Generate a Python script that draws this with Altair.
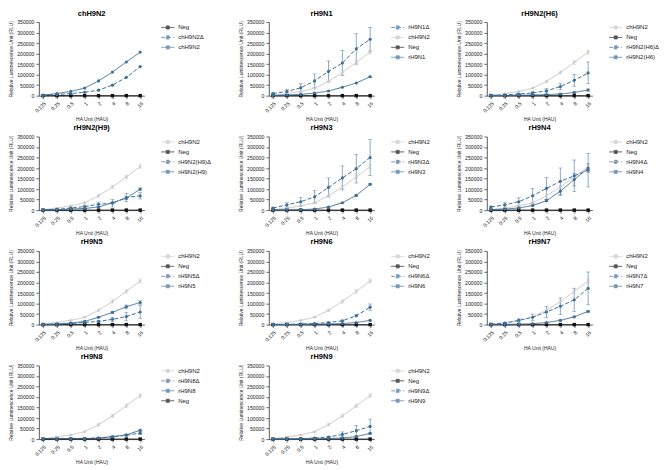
import altair as alt
import pandas as pd

HAU = ["0.125", "0.25", "0.5", "1", "2", "4", "8", "16"]
Y_TICKS = [0, 50000, 100000, 150000, 200000, 250000, 300000, 350000]

NEG = [0, 0, 0, 0, 0, 0, 0, 0]
ZERO = [0, 0, 0, 0, 0, 0, 0, 0]

# chH9N2 reference (grey in the rH9 panels)
CH = [2000, 10000, 20000, 35000, 68000, 110000, 158000, 207000]
CH_ERR = [0, 1000, 2000, 3000, 6000, 8000, 9000, 10000]
# chH9N2 panel itself
CH_FULL = [2000, 10000, 20000, 36000, 70000, 112000, 160000, 207000]
CH_D = [1000, 5000, 10000, 16000, 26000, 50000, 87000, 138000]

N1_D = [10000, 20000, 37000, 70000, 115000, 155000, 222000, 268000]
N1_D_ERR = [3000, 8000, 19000, 33000, 50000, 60000, 72000, 57000]
N1 = [1000, 3000, 6000, 12000, 22000, 40000, 60000, 90000]
N1_ERR = [0, 0, 0, 0, 0, 0, 0, 3000]

H6_D = [1000, 3000, 8000, 13000, 23000, 43000, 73000, 108000]
H6_D_ERR = [0, 1000, 3000, 5000, 10000, 15000, 28000, 52000]
H6 = [500, 1000, 2000, 3000, 5000, 8000, 15000, 27000]
H6_ERR = [0, 0, 0, 0, 1000, 2000, 3000, 5000]

H9_D = [1000, 3000, 10000, 17000, 28000, 33000, 60000, 68000]
H9_D_ERR = [0, 1000, 4000, 7000, 10000, 18000, 20000, 15000]
H9 = [500, 2000, 5000, 8000, 15000, 35000, 57000, 100000]
H9_ERR = [0, 0, 0, 1000, 2000, 3000, 5000, 5000]

N3_D = [10000, 25000, 40000, 63000, 108000, 153000, 197000, 250000]
N3_D_ERR = [3000, 10000, 20000, 30000, 45000, 57000, 68000, 85000]
N3 = [500, 1000, 2000, 5000, 15000, 35000, 70000, 123000]
N3_ERR = [0, 0, 0, 0, 1000, 2000, 3000, 4000]

N4_D = [15000, 25000, 40000, 68000, 103000, 137000, 163000, 190000]
N4_D_ERR = [4000, 10000, 18000, 35000, 52000, 63000, 75000, 80000]
N4 = [2000, 5000, 10000, 22000, 45000, 90000, 145000, 200000]
N4_ERR = [0, 0, 2000, 3000, 5000, 20000, 30000, 20000]

N5_D = [500, 2000, 5000, 10000, 15000, 25000, 38000, 60000]
N5_D_ERR = [0, 0, 1000, 2000, 4000, 10000, 20000, 30000]
N5 = [1000, 3000, 7000, 15000, 35000, 58000, 85000, 105000]
N5_ERR = [0, 0, 1000, 2000, 3000, 5000, 8000, 8000]

N6_D = [500, 1000, 3000, 5000, 10000, 18000, 42000, 83000]
N6_D_ERR = [0, 0, 0, 1000, 2000, 3000, 5000, 15000]
N6 = [200, 500, 1000, 2000, 3000, 5000, 10000, 20000]
N6_ERR = [0, 0, 0, 0, 0, 0, 1000, 2000]

N7_D = [2000, 7000, 20000, 35000, 60000, 87000, 118000, 172000]
N7_D_ERR = [0, 2000, 7000, 15000, 27000, 40000, 55000, 78000]
N7 = [500, 1000, 2000, 4000, 10000, 20000, 37000, 63000]
N7_ERR = [0, 0, 0, 0, 1000, 2000, 3000, 4000]

N8_D = [200, 500, 1000, 2000, 5000, 10000, 18000, 28000]
N8_D_ERR = [0, 0, 0, 0, 1000, 2000, 3000, 5000]
N8 = [200, 500, 1000, 2000, 5000, 12000, 20000, 42000]
N8_ERR = [0, 0, 0, 0, 1000, 2000, 3000, 5000]

N9_D = [500, 1000, 2000, 5000, 10000, 22000, 40000, 60000]
N9_D_ERR = [0, 0, 0, 1000, 3000, 12000, 25000, 35000]
N9 = [200, 500, 1000, 2000, 3000, 5000, 12000, 27000]
N9_ERR = [0, 0, 0, 0, 0, 1000, 2000, 3000]

BLUE = "#3f6f98"
STYLE = {
    "neg": {"color": "#111111", "dash": [1, 0]},
    "ref": {"color": "#c6c6c6", "dash": [1, 0]},
    "delta": {"color": BLUE, "dash": [4, 2]},
    "full": {"color": BLUE, "dash": [1, 0]},
}
# marker layers: (kinds, shape, size)
MARKERS = [
    (["neg"], "square", 12),
    (["ref"], "cross", 7),
    (["delta", "full"], "circle", 10),
]

FONT = "Liberation Sans"
LEGEND_SYMBOL = "M-1.3,0H1.3M-0.3,-0.3H0.3V0.3H-0.3Z"


def panel(title, series):
    rows = []
    for name, kind, mean, err in series:
        for h, m, e in zip(HAU, mean, err):
            rows.append({"hau": h, "rlu": m, "lo": m - e, "hi": m + e,
                         "err": e, "series": name, "kind": kind})
    df = pd.DataFrame(rows)
    names = [s[0] for s in series]

    x = alt.X("hau:O", sort=HAU,
              scale=alt.Scale(type="point", padding=0.3),
              axis=alt.Axis(title="HA Unit (HAU)", labelAngle=-45))
    yaxis = alt.Axis(title="Relative Luminescence Unit (RLU)",
                     values=Y_TICKS, format="d")
    yscale = alt.Scale(domain=[0, 350000], nice=False)
    color = alt.Color("series:N",
                      scale=alt.Scale(domain=names,
                                      range=[STYLE[s[1]]["color"] for s in series]),
                      legend=alt.Legend(title=None, symbolType=LEGEND_SYMBOL))
    dash = alt.StrokeDash("series:N",
                          scale=alt.Scale(domain=names,
                                          range=[STYLE[s[1]]["dash"] for s in series]),
                          legend=alt.Legend(title=None, symbolType=LEGEND_SYMBOL))

    base = alt.Chart(df)
    bars = base.transform_filter("datum.err > 0")
    layers = [
        bars.mark_rule(strokeWidth=0.6).encode(
            x=x, y=alt.Y("lo:Q", scale=yscale, axis=yaxis), y2="hi:Q", color=color),
        bars.mark_tick(size=4, thickness=0.6).encode(
            x=x, y=alt.Y("hi:Q", scale=yscale, axis=yaxis), color=color),
        bars.mark_tick(size=4, thickness=0.6).encode(
            x=x, y=alt.Y("lo:Q", scale=yscale, axis=yaxis), color=color),
        base.mark_line(strokeWidth=1).encode(
            x=x, y=alt.Y("rlu:Q", scale=yscale, axis=yaxis),
            color=color, strokeDash=dash, detail="series:N"),
    ]
    for kinds, shape, size in MARKERS:
        layers.append(
            base.transform_filter(alt.FieldOneOfPredicate(field="kind", oneOf=kinds))
            .mark_point(filled=True, shape=shape, size=size, opacity=1)
            .encode(x=x, y=alt.Y("rlu:Q", scale=yscale, axis=yaxis), color=color)
        )

    return alt.layer(*layers).properties(
        width=106, height=74,
        title=alt.TitleParams(title, fontSize=7.5, fontWeight="bold",
                              font=FONT, offset=3, frame="group"),
    )


def rh9(title, name, d, d_err, f, f_err):
    return panel(title, [
        ("chH9N2", "ref", CH, CH_ERR),
        ("Neg", "neg", NEG, ZERO),
        (name + "Δ", "delta", d, d_err),
        (name, "full", f, f_err),
    ])


panels = [
    panel("chH9N2", [
        ("Neg", "neg", NEG, ZERO),
        ("chH9N2Δ", "delta", CH_D, ZERO),
        ("chH9N2", "full", CH_FULL, ZERO),
    ]),
    panel("rH9N1", [
        ("rH9N1Δ", "delta", N1_D, N1_D_ERR),
        ("chH9N2", "ref", CH, CH_ERR),
        ("Neg", "neg", NEG, ZERO),
        ("rH9N1", "full", N1, N1_ERR),
    ]),
    rh9("rH9N2(H6)", "rH9N2(H6)", H6_D, H6_D_ERR, H6, H6_ERR),
    rh9("rH9N2(H9)", "rH9N2(H9)", H9_D, H9_D_ERR, H9, H9_ERR),
    rh9("rH9N3", "rH9N3", N3_D, N3_D_ERR, N3, N3_ERR),
    rh9("rH9N4", "rH9N4", N4_D, N4_D_ERR, N4, N4_ERR),
    rh9("rH9N5", "rH9N5", N5_D, N5_D_ERR, N5, N5_ERR),
    rh9("rH9N6", "rH9N6", N6_D, N6_D_ERR, N6, N6_ERR),
    rh9("rH9N7", "rH9N7", N7_D, N7_D_ERR, N7, N7_ERR),
    panel("rH9N8", [
        ("chH9N2", "ref", CH, CH_ERR),
        ("rH9N8Δ", "delta", N8_D, N8_D_ERR),
        ("rH9N8", "full", N8, N8_ERR),
        ("Neg", "neg", NEG, ZERO),
    ]),
    rh9("rH9N9", "rH9N9", N9_D, N9_D_ERR, N9, N9_ERR),
]

chart = alt.concat(
    *panels, columns=3, spacing={"row": 2, "column": 26}
).resolve_scale(
    color="independent", strokeDash="independent"
).resolve_legend(
    color="independent", strokeDash="independent"
).properties(
    padding=0
).configure_view(
    stroke=None
).configure_axis(
    grid=False, domainColor="#333333", tickColor="#333333", domainWidth=0.8,
    tickWidth=0.7, tickSize=3, labelFontSize=5.2, titleFontSize=5,
    titleFontWeight="normal", labelColor="#222222", titleColor="#222222",
    labelFont=FONT, titleFont=FONT, labelPadding=2, titlePadding=3,
).configure_legend(
    labelFontSize=6, labelFont=FONT, labelColor="#222222", symbolSize=100,
    symbolStrokeWidth=1, rowPadding=1, offset=18, labelOffset=5,
)

chart.save("out.html", embed_options={"renderer": "svg", "actions": False})
